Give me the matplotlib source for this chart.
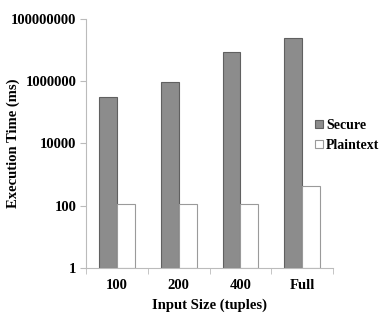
import matplotlib
matplotlib.use('Agg')
import matplotlib.pyplot as plt
import numpy as np

# data (log scale)
sizes = ['100', '200', '400', 'Full']
secure = [305000, 950000, 8600000, 24000000]
plaintext = [110, 115, 115, 440]

plt.rcParams['font.family'] = 'Liberation Serif'
plt.rcParams['font.weight'] = 'bold'

fig = plt.figure(figsize=(3.82, 3.15), dpi=100)
ax = fig.add_axes([0.225, 0.149, 0.647, 0.791])

x = np.arange(len(sizes))
w = 0.29
ax.bar(x - w / 2, np.array(secure) - 1, w, bottom=1, color='#8c8c8c',
       edgecolor='#606060', linewidth=0.8, label='Secure')
ax.bar(x + w / 2, np.array(plaintext) - 1, w, bottom=1, color='white',
       edgecolor='#9a9a9a', linewidth=0.8, label='Plaintext')

ax.set_yscale('log')
ax.set_ylim(1, 1e8)
ax.set_xlim(-0.5, len(sizes) - 0.5)
yt = [1, 100, 10000, 1000000, 100000000]
ax.set_yticks(yt)
ax.set_yticklabels([str(v) for v in yt])
ax.yaxis.set_minor_locator(matplotlib.ticker.NullLocator())
ax.set_xticks(x)
ax.set_xticklabels(sizes)
ax.set_xticks(np.arange(len(sizes) + 1) - 0.5, minor=True)
ax.tick_params(axis='x', which='major', length=0, pad=8, labelsize=10.5)
ax.tick_params(axis='x', which='minor', length=4, color='#bbbbbb', direction='out')
ax.tick_params(axis='y', length=4, color='#bbbbbb', labelsize=10.5, pad=3)

for s in ['top', 'right']:
    ax.spines[s].set_visible(False)
for s in ['left', 'bottom']:
    ax.spines[s].set_color('#bbbbbb')
    ax.spines[s].set_linewidth(0.8)

ax.set_xlabel('Input Size (tuples)', fontsize=10.5, fontweight='bold')
ax.set_ylabel('Execution Time (ms)', fontsize=10.5, fontweight='bold')
ax.xaxis.set_label_coords(0.5, -0.124)
ax.yaxis.set_label_coords(-0.268, 0.5)

ax.legend(loc='center left', bbox_to_anchor=(0.825, 0.57), bbox_transform=fig.transFigure,
          frameon=False, fontsize=10, handlelength=0.55, handleheight=0.55,
          handletextpad=0.25, labelspacing=0.5, borderaxespad=0, borderpad=0)

fig.savefig('out.png', dpi=100)
